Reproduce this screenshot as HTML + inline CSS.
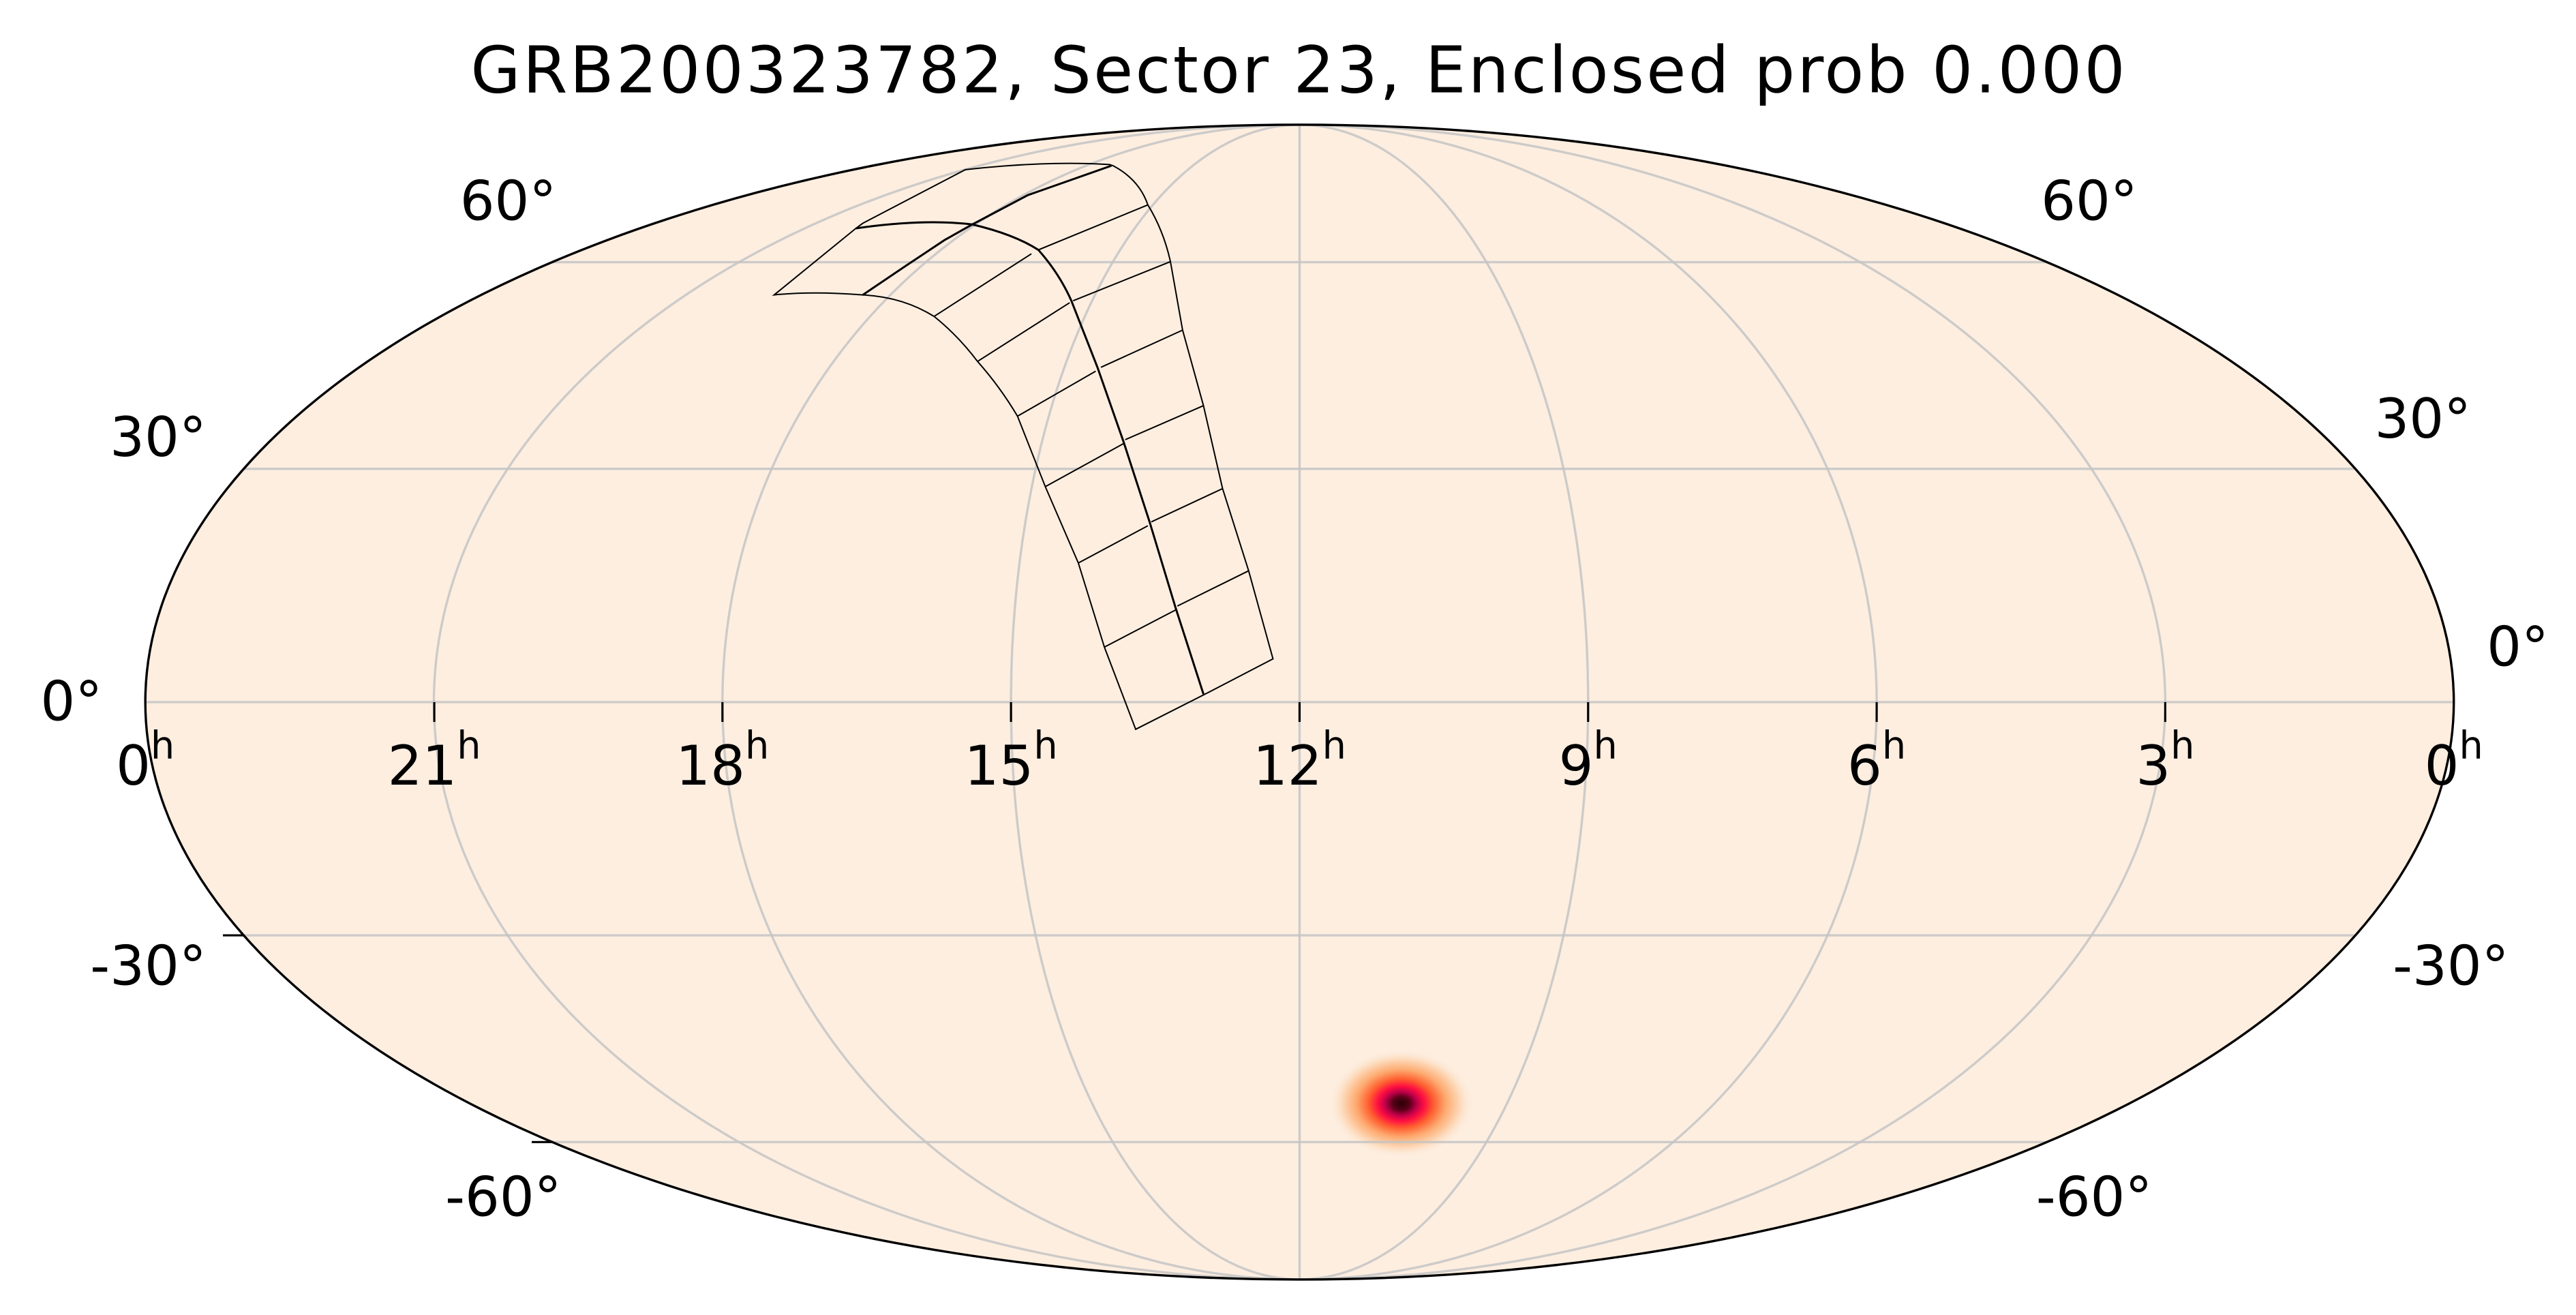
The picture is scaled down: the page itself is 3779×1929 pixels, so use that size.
<!DOCTYPE html>
<html><head><meta charset="utf-8"><style>
html,body{margin:0;padding:0;background:#fff;width:3779px;height:1929px;overflow:hidden}
svg{display:block}
text{font-family:"DejaVu Sans","Liberation Sans",sans-serif;fill:#000}
</style></head><body>
<svg width="3779" height="1929" viewBox="0 0 1560 796" preserveAspectRatio="none" xmlns="http://www.w3.org/2000/svg">
<defs>
<radialGradient id="blob" cx="0.5" cy="0.5" r="0.5">
<stop offset="0" stop-color="#2a0006"/>
<stop offset="0.12" stop-color="#5a0018"/>
<stop offset="0.22" stop-color="#c0004a"/>
<stop offset="0.32" stop-color="#ff1040"/>
<stop offset="0.45" stop-color="#ff6030"/>
<stop offset="0.62" stop-color="#fdaa70"/>
<stop offset="0.8" stop-color="#fdd6b4"/>
<stop offset="1" stop-color="#fdeee0" stop-opacity="0"/>
</radialGradient>
<clipPath id="clip"><ellipse cx="787" cy="425" rx="699" ry="349.5"/></clipPath>
</defs>
<text x="786" y="56" font-size="39" text-anchor="middle" textLength="1002" lengthAdjust="spacing">GRB200323782, Sector 23, Enclosed prob 0.000</text>
<ellipse cx="787" cy="425" rx="699" ry="349.5" fill="#fdeee0"/>
<g clip-path="url(#clip)">
<ellipse cx="848.5" cy="668" rx="44" ry="33" fill="url(#blob)"/>
<g stroke="#c4c4c4" stroke-opacity="0.85" stroke-width="1.4" fill="none">
<ellipse cx="787" cy="425" rx="174.75" ry="349.5"/>
<ellipse cx="787" cy="425" rx="349.5" ry="349.5"/>
<ellipse cx="787" cy="425" rx="524.25" ry="349.5"/>
<line x1="787" y1="70" x2="787" y2="780"/>
<line x1="80" y1="425" x2="1495" y2="425"/>
<line x1="80" y1="283.8" x2="1495" y2="283.8"/>
<line x1="80" y1="566.2" x2="1495" y2="566.2"/>
<line x1="80" y1="158.7" x2="1495" y2="158.7"/>
<line x1="80" y1="691.3" x2="1495" y2="691.3"/>
</g>
</g>
<ellipse cx="787" cy="425" rx="699" ry="349.5" fill="none" stroke="#000" stroke-width="1.4"/>
<g stroke="#000" stroke-width="1.3">
<line x1="263" y1="425" x2="263" y2="437"/><line x1="437.5" y1="425" x2="437.5" y2="437"/>
<line x1="612.25" y1="425" x2="612.25" y2="437"/><line x1="787" y1="425" x2="787" y2="437"/>
<line x1="961.75" y1="425" x2="961.75" y2="437"/><line x1="1136.5" y1="425" x2="1136.5" y2="437"/>
<line x1="1311.25" y1="425" x2="1311.25" y2="437"/>
<line x1="135" y1="566.2" x2="148" y2="566.2"/>
<line x1="322" y1="691.3" x2="335" y2="691.3"/>
</g>
<g transform="matrix(0.2105,0,0,0.2369,454.1,82.56)" fill="none" stroke="#000" stroke-width="2" vector-effect="non-scaling-stroke">
<path vector-effect="non-scaling-stroke" d="M70,405 L305,235 L325,222 L620,85 Q850,62 1035,72 L1045,75 Q1120,110 1145,175 Q1190,240 1210,320 L1245,495 L1305,688 L1360,900 L1435,1110 L1505,1335 L1310,1425 L1110,1515 L1020,1305 L945,1090 L850,895 L770,715 Q720,640 655,575 Q600,510 530,460 Q440,410 325,405 Q180,395 70,405 Z"/>
<path vector-effect="non-scaling-stroke" stroke-width="3" d="M325,405 L450,330 L560,265 L640,225 L800,150 L1040,75"/>
<path vector-effect="non-scaling-stroke" stroke-width="3" d="M305,235 Q500,210 640,225 Q760,250 830,290 Q890,350 925,420 L1000,590 L1075,780 L1150,985 L1225,1205 L1305,1425"/>
<path vector-effect="non-scaling-stroke" d="M530,460 L810,300 M830,290 L1145,175 M655,575 L920,425 M930,420 L1210,320 M770,715 L995,600 M1010,590 L1245,495 M850,895 L1075,785 M1080,775 L1305,688 M945,1090 L1145,995 M1155,985 L1360,900 M1020,1305 L1225,1210 M1230,1200 L1435,1110"/>
</g>
<g font-size="33">
<text x="337" y="133" text-anchor="end">60°</text>
<text x="1236" y="133">60°</text>
<text x="125" y="276" text-anchor="end">30°</text>
<text x="1438" y="265">30°</text>
<text x="62" y="436" text-anchor="end">0°</text>
<text x="1506" y="403">0°</text>
<text x="125" y="596" text-anchor="end">-30°</text>
<text x="1449" y="596">-30°</text>
<text x="340" y="736" text-anchor="end">-60°</text>
<text x="1233" y="736">-60°</text>
</g>
<g font-size="33" text-anchor="middle">
<text x="88" y="475">0<tspan font-size="23" dy="-16">h</tspan></text>
<text x="263" y="475">21<tspan font-size="23" dy="-16">h</tspan></text>
<text x="437.5" y="475">18<tspan font-size="23" dy="-16">h</tspan></text>
<text x="612.25" y="475">15<tspan font-size="23" dy="-16">h</tspan></text>
<text x="787" y="475">12<tspan font-size="23" dy="-16">h</tspan></text>
<text x="961.75" y="475">9<tspan font-size="23" dy="-16">h</tspan></text>
<text x="1136.5" y="475">6<tspan font-size="23" dy="-16">h</tspan></text>
<text x="1311.25" y="475">3<tspan font-size="23" dy="-16">h</tspan></text>
<text x="1486" y="475">0<tspan font-size="23" dy="-16">h</tspan></text>
</g>
</svg>
</body></html>
